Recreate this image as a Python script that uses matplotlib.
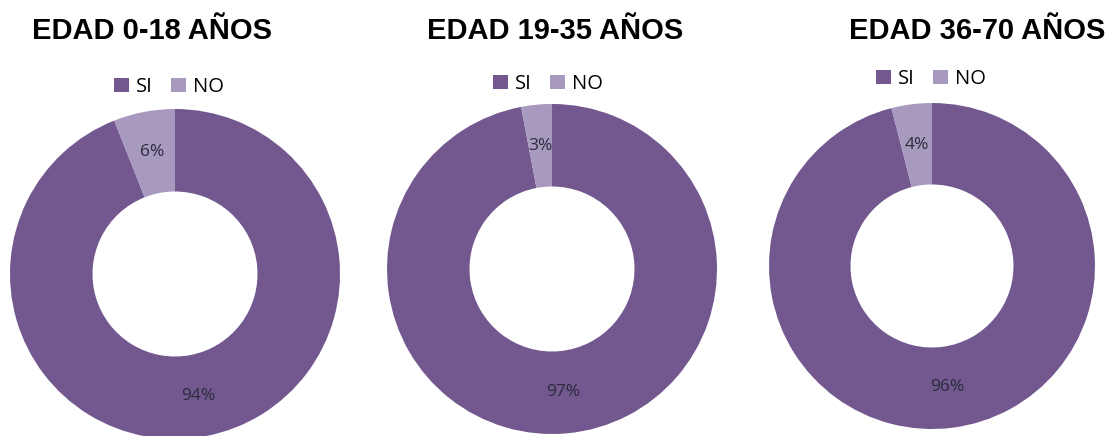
import matplotlib.pyplot as plt

TITLES = ["EDAD 0-18 AÑOS", "EDAD 19-35 AÑOS", "EDAD 36-70 AÑOS"]
LABELS = ["SI", "NO"]
SI_VALUES = [94, 97, 96]
NO_VALUES = [6, 3, 4]

COLORS = ["#72588F", "#A899BF"]
W, H = 1109, 436

# donut geometry in pixels: (center x, center y from top, radius)
GEOMETRY = [(175, 274, 165), (552, 269, 165), (932, 266, 163)]
TITLE_POS = [(152, 31), (555, 31), (977, 31)]
LEGEND_POS = [(169, 87), (548, 84), (931, 79)]

fig = plt.figure(figsize=(W / 100, H / 100), dpi=100)

for i, (cx, cy, r) in enumerate(GEOMETRY):
    ax = fig.add_axes([(cx - r) / W, (H - cy - r) / H, 2 * r / W, 2 * r / H])
    wedges, texts, autotexts = ax.pie(
        [SI_VALUES[i], NO_VALUES[i]],
        colors=COLORS,
        startangle=90,
        counterclock=False,
        radius=1,
        wedgeprops={"width": 0.5, "edgecolor": "none"},
        autopct="%d%%",
        pctdistance=0.75,
        textprops={"fontsize": 12.5, "color": "#2b2b3a", "family": "Open Sans"},
    )
    ax.set_xlim(-1, 1)
    ax.set_ylim(-1, 1)
    ax.set_aspect("auto")
    ax.axis("off")

    tx, ty = TITLE_POS[i]
    fig.text(tx / W, 1 - ty / H, TITLES[i], ha="center", va="center",
             fontsize=21, fontweight="bold", family="Liberation Sans")

    lx, ly = LEGEND_POS[i]
    fig.legend(wedges, LABELS, loc="center", bbox_to_anchor=(lx / W, 1 - ly / H),
               ncol=2, frameon=False, handlelength=0.75, handleheight=0.75,
               handletextpad=0.35, columnspacing=0.9,
               prop={"family": "Open Sans", "size": 14.5})

fig.savefig("out.png", dpi=100)
